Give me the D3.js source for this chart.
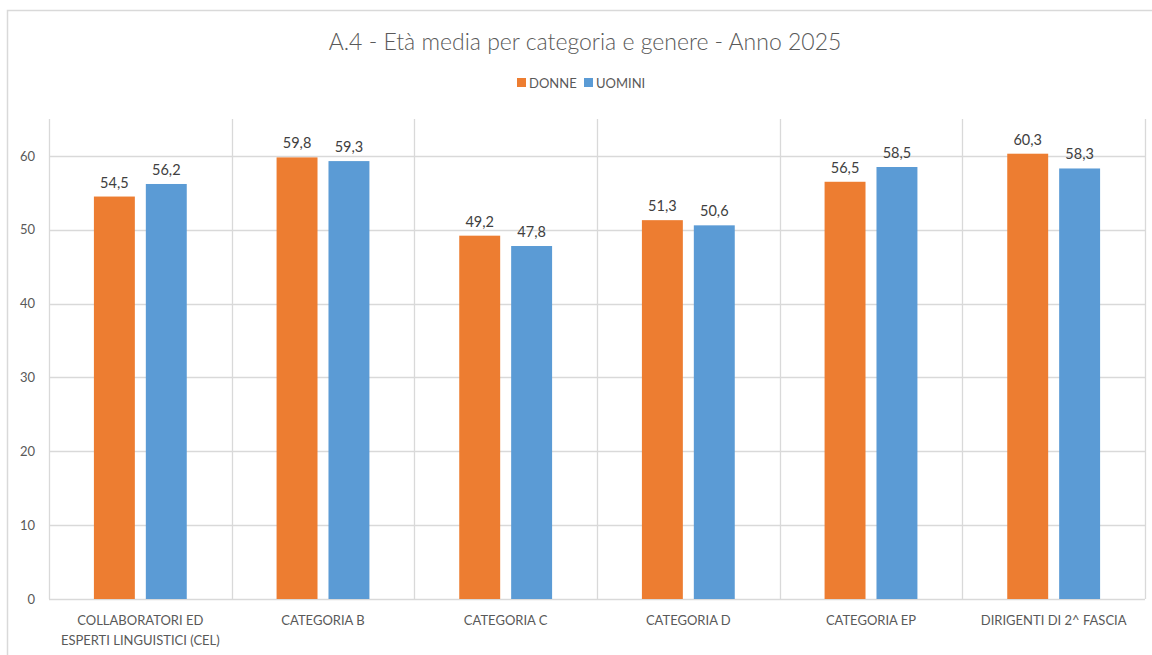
<!DOCTYPE html>
<html>
<head>
<meta charset="utf-8">
<script src="https://cdn.jsdelivr.net/npm/d3@7"></script>
<style>
  html, body { margin: 0; padding: 0; background: #fff; }
  svg { display: block; font-family: Lato, "Open Sans", sans-serif; }
</style>
</head>
<body>
<svg id="chart" width="1152" height="655"></svg>
<script>
const title = "A.4 - Età media per categoria e genere - Anno 2025";
const categories = [
  ["COLLABORATORI ED", "ESPERTI LINGUISTICI (CEL)"],
  ["CATEGORIA B"],
  ["CATEGORIA C"],
  ["CATEGORIA D"],
  ["CATEGORIA EP"],
  ["DIRIGENTI DI 2^ FASCIA"]
];
const seriesNames = ["DONNE", "UOMINI"];
const donne = [54.5, 59.8, 49.2, 51.3, 56.5, 60.3];
const uomini = [56.2, 59.3, 47.8, 50.6, 58.5, 58.3];
const yTicks = [0, 10, 20, 30, 40, 50, 60];
const colors = ["#ED7D31", "#5B9BD5"];

const svg = d3.select("#chart");
const plot = { left: 49, right: 1145, top: 119, bottom: 599 };

// outer chart frame
svg.append("rect").attr("x", 7.5).attr("y", 10.5).attr("width", 1160).attr("height", 700)
  .attr("fill", "#fff").attr("stroke", "#D9D9D9").attr("stroke-width", 1.5);

const x = d3.scaleBand().domain(d3.range(categories.length)).range([plot.left, plot.right]).padding(0);
const y = d3.scaleLinear().domain([0, 65]).range([plot.bottom, plot.top]);

// horizontal gridlines
svg.append("g").selectAll("line").data(yTicks).join("line")
  .attr("x1", plot.left).attr("x2", plot.right)
  .attr("y1", d => Math.round(y(d)) + 0.5).attr("y2", d => Math.round(y(d)) + 0.5)
  .attr("stroke", "#D9D9D9").attr("stroke-width", 1.3);

// vertical gridlines at category boundaries
const bounds = d3.range(categories.length + 1).map(i => i < categories.length ? x(i) : x(i - 1) + x.bandwidth());
svg.append("g").selectAll("line").data(bounds).join("line")
  .attr("x1", d => Math.round(d) + 0.5).attr("x2", d => Math.round(d) + 0.5)
  .attr("y1", plot.top).attr("y2", plot.bottom)
  .attr("stroke", "#D9D9D9").attr("stroke-width", 1.3);

// y axis labels
const yAxis = d3.axisLeft(y).tickValues(yTicks).tickSize(0).tickPadding(14);
const gy = svg.append("g").attr("transform", `translate(${plot.left},0)`).call(yAxis);
gy.select(".domain").remove();
gy.selectAll("text").attr("fill", "#595959").style("font-size", "13px").style("font-family", "Lato, sans-serif");

// bars
const inner = d3.scaleBand().domain([0, 1]).range([0, x.bandwidth()]).paddingInner(0.2115).paddingOuter(0.865);
const data = categories.map((c, i) => ({ i, vals: [donne[i], uomini[i]] }));
const g = svg.append("g");
data.forEach(d => {
  d.vals.forEach((v, s) => {
    const bx = x(d.i) + inner(s);
    g.append("rect")
      .attr("x", bx).attr("y", y(v))
      .attr("width", inner.bandwidth()).attr("height", y(0) - y(v))
      .attr("fill", colors[s]);
    g.append("text")
      .attr("x", bx + inner.bandwidth() / 2).attr("y", y(v) - 9)
      .attr("text-anchor", "middle").attr("fill", "#404040")
      .style("font-size", "14.5px")
      .text(d3.format(".1f")(v).replace(".", ","));
  });
});

// category labels
const cl = svg.append("g");
categories.forEach((lines, i) => {
  const t = cl.append("text").attr("x", x(i) + x.bandwidth() / 2).attr("y", 625)
    .attr("text-anchor", "middle").attr("fill", "#595959").style("font-size", "13px");
  lines.forEach((ln, k) => t.append("tspan").attr("x", x(i) + x.bandwidth() / 2).attr("dy", k === 0 ? 0 : 20).text(ln));
});

// title
svg.append("text").attr("x", 585).attr("y", 50).attr("text-anchor", "middle")
  .attr("fill", "#595959").style("font-size", "23px").style("font-weight", 300).text(title);

// legend
const legendX = [517, 584];
seriesNames.forEach((n, s) => {
  svg.append("rect").attr("x", legendX[s]).attr("y", 78).attr("width", 9).attr("height", 9).attr("fill", colors[s]);
  svg.append("text").attr("x", legendX[s] + 12).attr("y", 87.5).attr("fill", "#595959")
    .style("font-size", "13px").text(n);
});
</script>
</body>
</html>
